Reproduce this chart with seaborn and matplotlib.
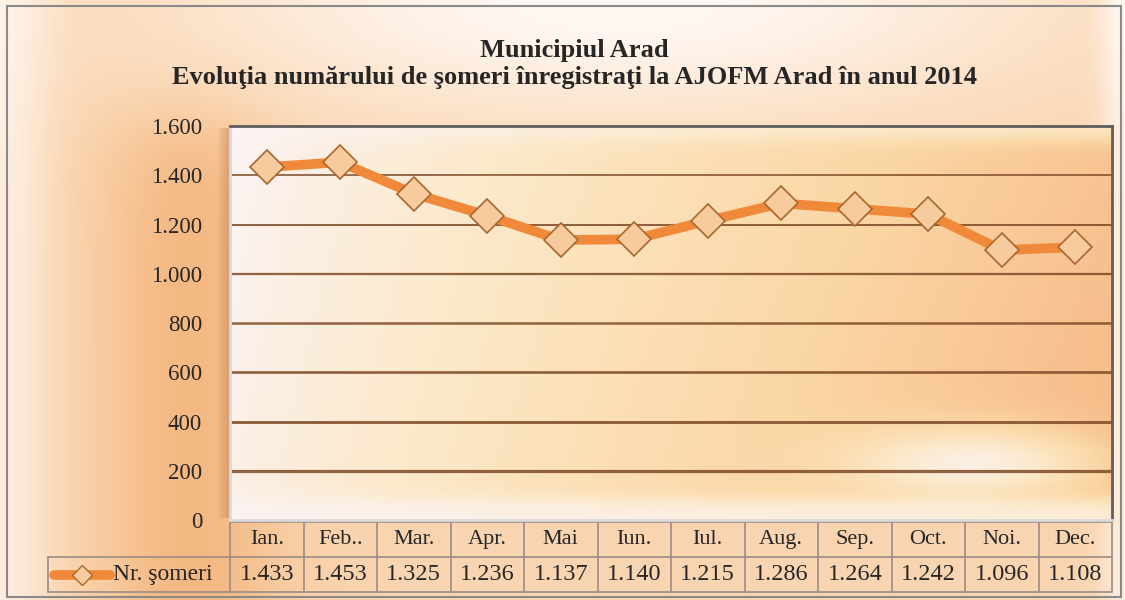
import matplotlib.pyplot as plt
import numpy as np
import pandas as pd
import seaborn as sns
from matplotlib.colors import LinearSegmentedColormap
from matplotlib.lines import Line2D
from matplotlib.patches import Rectangle

MONTHS = ["Ian.", "Feb..", "Mar.", "Apr.", "Mai", "Iun.", "Iul.", "Aug.", "Sep.", "Oct.", "Noi.", "Dec."]
SOMERI = [1433, 1453, 1325, 1236, 1137, 1140, 1215, 1286, 1264, 1242, 1096, 1108]
Y_TICKS = [0, 200, 400, 600, 800, 1000, 1200, 1400, 1600]
SERIES_LABEL = "Nr. şomeri"
TITLE = "Municipiul Arad\nEvoluţia numărului de şomeri înregistraţi la AJOFM Arad în anul 2014"

LINE_COLOR = "#F08A3A"
MARKER_FACE = "#F8CB9E"
MARKER_EDGE = "#A8672E"
GRID_COLOR = "#7E4A26"
TABLE_EDGE = "#9C8C84"

W, H = 1125, 600
PLOT_L, PLOT_R, PLOT_T, PLOT_B = 230, 1112, 126, 520
TABLE_L = 48
ROW_H = 35


def ro_number(v: int) -> str:
    return f"{v:,}".replace(",", ".")


def sigmoid(z):
    return 1 / (1 + np.exp(-z))


def draw_background(fig: plt.Figure) -> None:
    bg = fig.add_axes([0, 0, 1, 1], zorder=-10)
    xx, yy = np.meshgrid(np.linspace(0, 1, 500), np.linspace(0, 1, 300))
    cmap_bg = LinearSegmentedColormap.from_list("bg", ["#FFF8F3", "#FCE4CD", "#F9CFA6", "#F4B882"])
    glow = np.exp(-((xx - 0.55) ** 2) / 0.15 - (yy - 0.0) ** 2 / 0.04)
    left_warm = np.exp(-((xx - 0.17) ** 2) / 0.006) * sigmoid((yy - 0.2) / 0.04)
    edge_light = np.exp(-(xx ** 2) / 0.002) + np.exp(-((xx - 1) ** 2) / 0.0004)
    t = 0.58 + 0.42 * left_warm - 0.6 * glow - 0.4 * edge_light
    bg.imshow(np.clip(t, 0, 1), cmap=cmap_bg, aspect="auto", extent=[0, 1, 0, 1], origin="upper",
              vmin=0, vmax=1)
    bg.set_xlim(0, 1)
    bg.set_ylim(0, 1)
    bg.axis("off")
    bg.add_patch(Rectangle((0.006, 0.005), 0.99, 0.985, fill=False, edgecolor="#8A8A8A", linewidth=1.5))
    # soft shadow to the left of the plot area
    for k in range(6):
        bg.add_patch(Rectangle(((PLOT_L - 2 - 2 * k) / W, 1 - (PLOT_B - 2) / H), (2 + 2 * k) / W,
                               (PLOT_B - PLOT_T - 4) / H, facecolor="#C98A5E", edgecolor="none",
                               alpha=0.12))


def main() -> None:
    sns.set_theme(style="white")
    plt.rcParams["font.family"] = ["Liberation Serif", "DejaVu Serif"]

    df = pd.DataFrame({"idx": np.arange(len(MONTHS)), "month": MONTHS, "value": SOMERI})

    fig = plt.figure(figsize=(W / 100, H / 100), dpi=100)
    draw_background(fig)

    ax = fig.add_axes([PLOT_L / W, 1 - PLOT_B / H, (PLOT_R - PLOT_L) / W, (PLOT_B - PLOT_T) / H])

    # plot area gradient: pale pink left, yellow middle, orange right, light floor
    cmap_in = LinearSegmentedColormap.from_list("inner", ["#FBF4F6", "#FCE9CA", "#FBD7A6", "#F6B583"])
    xi, yi = np.meshgrid(np.linspace(0, 1, 500), np.linspace(0, 1, 200))
    ti = 0.85 * xi ** 0.8 + 0.12 * yi
    white_spot = np.exp(-((xi - 0.85) ** 2) / 0.02 - (yi - 0.86) ** 2 / 0.008)
    ti = ti - 0.7 * white_spot
    ti = ti * (1 - 0.75 * sigmoid((yi - 0.95) / 0.012))
    ti = ti * (1 - 0.5 * np.exp(-(yi ** 2) / 0.0015))
    ax.imshow(np.clip(ti, 0, 1), cmap=cmap_in, aspect="auto", extent=[-0.5, 11.5, 0, 1600],
              origin="upper", vmin=0, vmax=1, zorder=0)

    for y in Y_TICKS[1:-1]:
        ax.axhline(y, color=GRID_COLOR, linewidth=1.3 + (1400 - y) / 1200, alpha=0.85, zorder=1)

    sns.lineplot(
        data=df,
        x="idx",
        y="value",
        color=LINE_COLOR,
        linewidth=7,
        marker="D",
        markersize=17,
        markerfacecolor=MARKER_FACE,
        markeredgecolor=MARKER_EDGE,
        markeredgewidth=1.2,
        ax=ax,
        zorder=3,
    )

    ax.set_xlim(-0.5, len(MONTHS) - 0.5)
    ax.set_ylim(0, 1600)
    ax.set_yticks(Y_TICKS)
    ax.set_yticklabels([ro_number(v) for v in Y_TICKS], fontsize=16.5)
    ax.tick_params(axis="y", pad=20, length=0)
    ax.set_xticks([])
    ax.set_xlabel("")
    ax.set_ylabel("")
    for side in ["top", "right"]:
        ax.spines[side].set_color("#5E5E5E")
        ax.spines[side].set_linewidth(2)
    for side in ["left", "bottom"]:
        ax.spines[side].set_color("#DADADA")
        ax.spines[side].set_linewidth(2)

    # data table below the plot
    trans = ax.get_xaxis_transform()
    plot_h = PLOT_B - PLOT_T
    col_w = (PLOT_R - PLOT_L) / len(MONTHS)
    row1_top = -2 / plot_h
    row1_bot = row1_top - ROW_H / plot_h
    row2_bot = row1_bot - ROW_H / plot_h
    x_left = (TABLE_L - PLOT_L) / col_w - 0.5

    table_lines = [
        ([-0.5, 11.5], [row1_top, row1_top]),
        ([x_left, 11.5], [row1_bot, row1_bot]),
        ([x_left, 11.5], [row2_bot, row2_bot]),
        ([x_left, x_left], [row1_bot, row2_bot]),
    ]
    for i in range(len(MONTHS) + 1):
        table_lines.append(([i - 0.5, i - 0.5], [row1_top, row2_bot]))
    for xs, ys in table_lines:
        ax.add_line(Line2D(xs, ys, transform=trans, color=TABLE_EDGE, linewidth=1.2, clip_on=False))

    for i, (m, v) in enumerate(zip(MONTHS, SOMERI)):
        ax.text(i, (row1_top + row1_bot) / 2, m, transform=trans, ha="center", va="center", fontsize=16)
        ax.text(i, (row1_bot + row2_bot) / 2, ro_number(v), transform=trans, ha="center", va="center",
                fontsize=17.5)

    ymid = (row1_bot + row2_bot) / 2
    key_x0 = x_left + 6 / col_w
    key_x1 = x_left + 62 / col_w
    ax.add_line(Line2D([key_x0, key_x1], [ymid, ymid], transform=trans, color=LINE_COLOR, linewidth=7,
                       solid_capstyle="round", clip_on=False))
    ax.add_line(Line2D([(key_x0 + key_x1) / 2], [ymid], transform=trans, marker="D", markersize=10,
                       markerfacecolor=MARKER_FACE, markeredgecolor=MARKER_EDGE, clip_on=False))
    ax.text(x_left + 65 / col_w, ymid, SERIES_LABEL, transform=trans, ha="left", va="center",
            fontsize=17)

    fig.text(0.5 + 12 / W, 1 - 64 / H, TITLE, ha="center", va="center", fontsize=19,
             fontweight="bold", linespacing=1.2)

    fig.savefig("out.png", dpi=100)
    plt.close(fig)


if __name__ == "__main__":
    main()
